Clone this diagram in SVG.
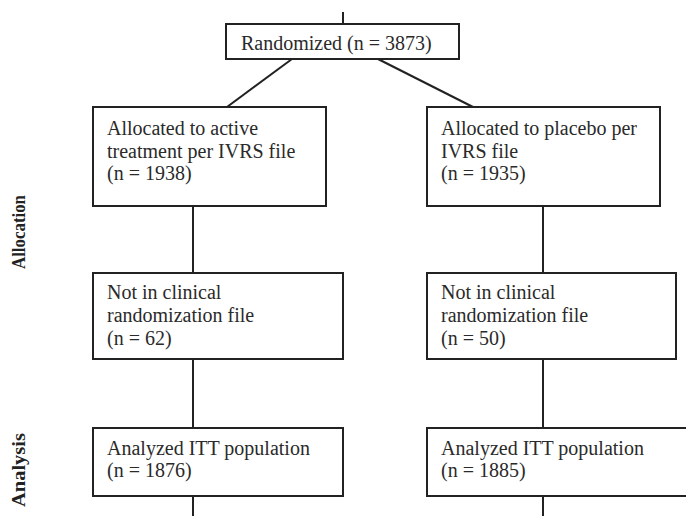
<svg xmlns="http://www.w3.org/2000/svg" width="686" height="516" viewBox="0 0 686 516">
<style>
.box{fill:#fff;stroke:#222;stroke-width:2}
.ln{stroke:#222;stroke-width:2;fill:none}
.t{font-family:"Liberation Serif","Times New Roman",serif;font-size:20px;fill:#2a2a2a}
.side{font-family:"Liberation Serif","Times New Roman",serif;font-size:18px;font-weight:bold;fill:#222}
</style>
<rect width="686" height="516" fill="#fff"/>
<g id="connectors">
<line class="ln" x1="343" y1="12" x2="343" y2="24"/>
<line class="ln" x1="292" y1="59" x2="227" y2="107"/>
<line class="ln" x1="378" y1="59" x2="473" y2="107"/>
<line class="ln" x1="193" y1="206" x2="193" y2="273"/>
<line class="ln" x1="193" y1="359" x2="193" y2="428"/>
<line class="ln" x1="193" y1="496" x2="193" y2="516"/>
<line class="ln" x1="543" y1="206" x2="543" y2="273"/>
<line class="ln" x1="543" y1="359" x2="543" y2="428"/>
<line class="ln" x1="543" y1="496" x2="543" y2="516"/>
</g>
<g id="randomized">
<rect class="box" x="226" y="24" width="233" height="35"/>
<text class="t" x="241" y="50">Randomized (n = 3873)</text>
</g>
<g id="alloc-active">
<rect class="box" x="93" y="107" width="233" height="99"/>
<text class="t" x="107" y="135">Allocated to active</text>
<text class="t" x="107" y="158">treatment per IVRS file</text>
<text class="t" x="107" y="180">(n = 1938)</text>
</g>
<g id="alloc-placebo">
<rect class="box" x="427" y="107" width="233" height="99"/>
<text class="t" x="441" y="135">Allocated to placebo per</text>
<text class="t" x="441" y="158">IVRS file</text>
<text class="t" x="441" y="180">(n = 1935)</text>
</g>
<g id="notin-active">
<rect class="box" x="93" y="273" width="250" height="86"/>
<text class="t" x="107" y="299">Not in clinical</text>
<text class="t" x="107" y="322">randomization file</text>
<text class="t" x="107" y="345">(n = 62)</text>
</g>
<g id="notin-placebo">
<rect class="box" x="427" y="273" width="249" height="86"/>
<text class="t" x="441" y="299">Not in clinical</text>
<text class="t" x="441" y="322">randomization file</text>
<text class="t" x="441" y="345">(n = 50)</text>
</g>
<g id="itt-active">
<rect class="box" x="93" y="428" width="250" height="68"/>
<text class="t" x="107" y="455">Analyzed ITT population</text>
<text class="t" x="107" y="477">(n = 1876)</text>
</g>
<g id="itt-placebo">
<rect class="box" x="427" y="428" width="263" height="68"/>
<text class="t" x="441" y="455">Analyzed ITT population</text>
<text class="t" x="441" y="477">(n = 1885)</text>
</g>
<g id="labels">
<text class="side" transform="translate(25,232) rotate(-90)" text-anchor="middle" textLength="74" lengthAdjust="spacingAndGlyphs">Allocation</text>
<text class="side" transform="translate(25,470) rotate(-90)" text-anchor="middle" textLength="74" lengthAdjust="spacingAndGlyphs">Analysis</text>
</g>
</svg>
